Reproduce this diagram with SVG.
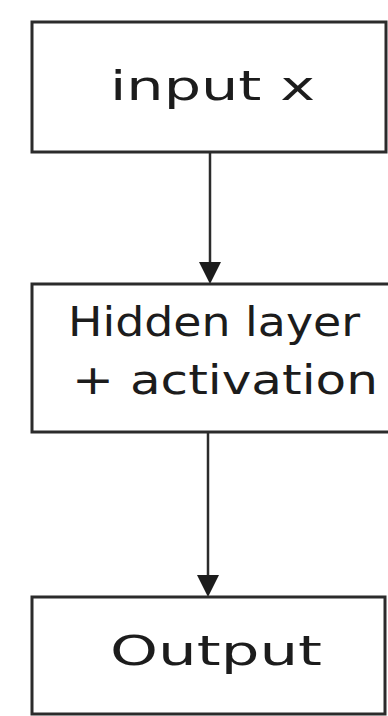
<svg xmlns="http://www.w3.org/2000/svg" width="388" height="716" viewBox="0 0 388 716">
  <style>
    .box { fill: #ffffff; stroke: #2b2b2b; stroke-width: 3; }
    .label { font-family: "DejaVu Sans", "Liberation Sans", sans-serif; font-size: 40px; fill: #1c1c1c; }
    .wire { stroke: #2b2b2b; stroke-width: 2.5; fill: none; }
    .tip { fill: #1c1c1c; }
  </style>
  <rect width="388" height="716" fill="#ffffff"/>

  <g id="connectors">
    <line class="wire" x1="210" y1="152" x2="210" y2="262"/>
    <path class="tip" d="M199,262 L221,262 L210,284 Z"/>
    <line class="wire" x1="208" y1="432" x2="208" y2="575"/>
    <path class="tip" d="M197,575 L219,575 L208,597 Z"/>
  </g>

  <g id="input">
    <rect class="box" x="32" y="22" width="354" height="130"/>
    <text class="label" x="110" y="100" textLength="205" lengthAdjust="spacingAndGlyphs">input x</text>
  </g>

  <g id="hidden">
    <rect class="box" x="32" y="284" width="360" height="148"/>
    <text class="label" x="68" y="336" textLength="292" lengthAdjust="spacingAndGlyphs">Hidden layer</text>
    <text class="label" x="72" y="394" textLength="306" lengthAdjust="spacingAndGlyphs">+ activation</text>
  </g>

  <g id="output">
    <rect class="box" x="32" y="597" width="353" height="117"/>
    <text class="label" x="110" y="665" textLength="212" lengthAdjust="spacingAndGlyphs">Output</text>
  </g>
</svg>
